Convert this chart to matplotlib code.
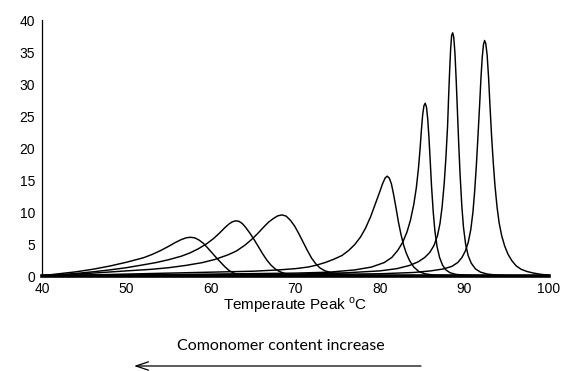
import matplotlib
matplotlib.use("Agg")
import matplotlib.pyplot as plt

# temperature / intensity, one curve per sample
t1 = [40, 41, 42, 43, 44, 45, 46, 47, 48, 49, 50, 51, 52, 53, 54, 55, 55.8, 56.5, 57.1, 57.6, 58.1, 58.6, 59.1,
      59.6, 60.1, 60.6, 61.1, 61.6, 62.1, 62.6, 63.1, 63.7, 64.5, 66, 70, 100]
y1 = [0.1, 0.2, 0.35, 0.5, 0.65, 0.85, 1.05, 1.3, 1.55, 1.85, 2.15, 2.5, 2.85, 3.35, 3.95, 4.65, 5.25, 5.7, 5.98,
      6.05, 5.95, 5.6, 5.1, 4.4, 3.65, 2.9, 2.2, 1.5, 0.9, 0.5, 0.27, 0.14, 0.07, 0.03, 0.01, 0]

t2 = [40, 42, 44, 46, 48, 50, 52, 53.5, 55, 56.5, 57.5, 58.5, 59.5, 60.3, 61, 61.6, 62.1, 62.5, 62.9, 63.3, 63.7,
      64.1, 64.6, 65.1, 65.6, 66.1, 66.6, 67.1, 67.6, 68.1, 68.7, 69.5, 71, 74, 100]
y2 = [0.05, 0.2, 0.4, 0.65, 0.95, 1.3, 1.75, 2.1, 2.55, 3.1, 3.6, 4.25, 5.05, 5.85, 6.7, 7.5, 8.1, 8.45, 8.62, 8.55,
      8.2, 7.6, 6.7, 5.7, 4.6, 3.5, 2.5, 1.7, 1.1, 0.7, 0.4, 0.2, 0.08, 0.03, 0]

t3 = [40, 43, 46, 50, 53, 55, 57, 59, 60.5, 62, 63, 64, 64.8, 65.5, 66.2, 66.8, 67.4, 67.9, 68.4, 68.9, 69.4, 69.9,
      70.4, 70.9, 71.4, 71.9, 72.4, 72.9, 73.5, 74.3, 75.5, 77, 80, 100]
y3 = [0.0, 0.2, 0.45, 0.8, 1.05, 1.3, 1.65, 2.1, 2.6, 3.3, 3.9, 4.8, 5.7, 6.6, 7.6, 8.4, 9.0, 9.4, 9.55, 9.35, 8.7,
      7.8, 6.6, 5.3, 4.0, 2.8, 1.9, 1.25, 0.8, 0.5, 0.3, 0.15, 0.05, 0]

t4 = [40, 45, 50, 55, 60, 65, 68, 70, 71.5, 72.5, 73.5, 74.5, 75.5, 76.3, 77, 77.7, 78.3, 78.9, 79.4, 79.9, 80.3,
      80.6, 80.85, 81.1, 81.35, 81.6, 81.9, 82.2, 82.5, 82.8, 83.1, 83.5, 84, 84.6, 85.3, 86.5, 89, 100]
y4 = [0.0, 0.15, 0.3, 0.45, 0.6, 0.75, 0.95, 1.15, 1.4, 1.7, 2.1, 2.6, 3.2, 4.0, 4.9, 6.1, 7.5, 9.3, 11.1, 12.9,
      14.4, 15.3, 15.6, 15.3, 14.4, 12.8, 10.6, 8.3, 6.4, 4.8, 3.6, 2.4, 1.4, 0.7, 0.35, 0.12, 0.04, 0]

t5 = [40, 50, 60, 70, 74, 77, 79, 80.5, 81.4, 82.1, 82.7, 83.2, 83.6, 84.0, 84.3, 84.55, 84.75, 84.9, 85.05, 85.2,
      85.35, 85.5, 85.65, 85.8, 85.95, 86.1, 86.3, 86.5, 86.75, 87.05, 87.4, 87.8, 88.3, 89.0, 90.5, 93, 100]
y5 = [0.0, 0.15, 0.3, 0.45, 0.6, 0.95, 1.4, 2.1, 2.9, 4.0, 5.3, 6.9, 8.7, 11.2, 13.8, 16.8, 20.0, 22.8, 25.2, 26.6,
      27.0, 26.4, 24.5, 21.5, 17.8, 14.0, 10.0, 7.0, 4.6, 2.9, 1.7, 0.95, 0.5, 0.25, 0.1, 0.03, 0]

t6 = [40, 60, 70, 76, 80, 82, 83.5, 84.5, 85.3, 85.9, 86.4, 86.8, 87.1, 87.35, 87.6, 87.8, 88.0, 88.12, 88.24,
      88.36, 88.48, 88.6, 88.73, 88.87, 89.02, 89.17, 89.32, 89.48, 89.68, 89.88, 90.13, 90.43, 90.8, 91.3, 91.9,
      92.7, 94, 96, 100]
y6 = [0.0, 0.15, 0.3, 0.5, 0.8, 1.15, 1.65, 2.2, 2.9, 3.7, 4.8, 6.3, 8.2, 10.8, 14.5, 18.5, 23.5, 28.0, 32.0,
      35.5, 37.6, 38.0, 37.3, 34.8, 30.5, 25.5, 20.5, 15.8, 11.0, 7.6, 5.0, 3.2, 2.0, 1.1, 0.6, 0.3, 0.12, 0.04, 0]

t7 = [40, 70, 80, 84, 86, 87.5, 88.5, 89.2, 89.7, 90.1, 90.45, 90.75, 91.0, 91.2, 91.4, 91.6, 91.8, 91.95, 92.1,
      92.25, 92.38, 92.52, 92.68, 92.85, 93.0, 93.2, 93.4, 93.6, 93.85, 94.1, 94.4, 94.75, 95.15, 95.6, 96.1, 96.7,
      97.4, 98.2, 99.1, 100]
y7 = [0.0, 0.2, 0.35, 0.55, 0.8, 1.1, 1.5, 2.1, 2.9, 3.9, 5.3, 7.3, 10.0, 13.2, 17.2, 22.0, 27.0, 31.0, 34.2,
      36.2, 36.8, 36.3, 34.5, 31.0, 27.0, 22.0, 17.8, 14.2, 10.8, 8.3, 6.3, 4.7, 3.4, 2.4, 1.6, 1.05, 0.7, 0.45,
      0.25, 0.15]

curves = [(t1, y1), (t2, y2), (t3, y3), (t4, y4), (t5, y5), (t6, y6), (t7, y7)]

plt.rcParams['font.family'] = ['Liberation Sans', 'DejaVu Sans']

fig = plt.figure(figsize=(5.63, 3.71), dpi=100)
ax = fig.add_axes([42 / 563, 1 - 276 / 371, 507 / 563, 256 / 371])

for t, y in curves:
    ax.plot(t, y, color='black', lw=1.05, solid_joinstyle='round')

ax.set_xlim(40, 100)
ax.set_ylim(0, 40)
ax.set_xticks(range(40, 101, 10))
ax.set_yticks(range(0, 41, 5))
ax.tick_params(length=0, labelsize=10, pad=5)
ax.tick_params(axis='x', pad=4)
for s in ['top', 'right']:
    ax.spines[s].set_visible(False)
ax.spines['bottom'].set_linewidth(2.6)
ax.spines['left'].set_linewidth(0.9)

ax.set_xlabel('Temperaute Peak $^{\\mathregular{o}}$C', fontsize=11, labelpad=0)

fig.text(281 / 563, 1 - 346 / 371, 'Comonomer content increase', ha='center', va='center',
         fontsize=11.5, family=['Lato', 'DejaVu Sans'])
ax.annotate('', xy=(134 / 563, 1 - 366 / 371), xytext=(421 / 563, 1 - 366 / 371),
            xycoords='figure fraction', textcoords='figure fraction',
            arrowprops=dict(arrowstyle='->,head_length=0.9,head_width=0.3', lw=0.9, color='black',
                            shrinkA=0, shrinkB=0))

fig.savefig('out.png', dpi=100)
